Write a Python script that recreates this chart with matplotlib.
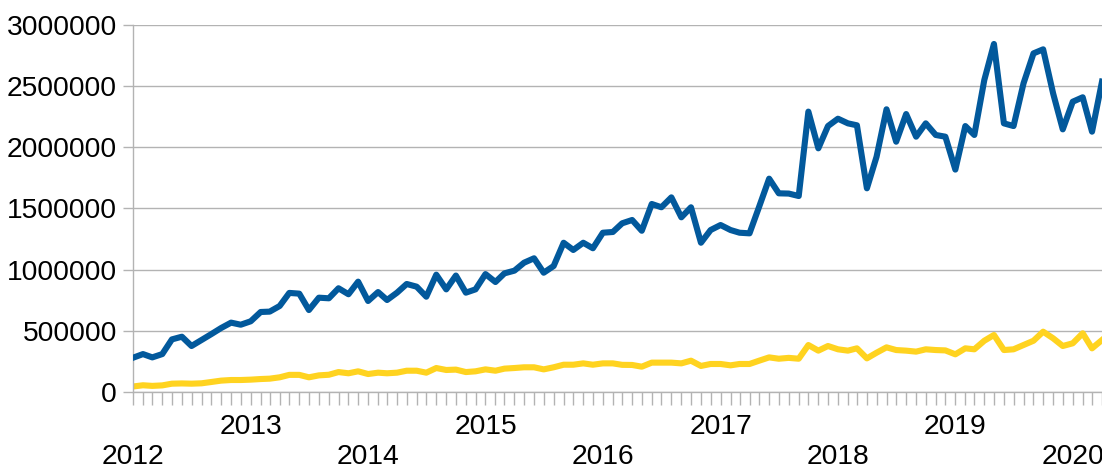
import pandas as pd
import matplotlib
matplotlib.use("Agg")
import matplotlib.pyplot as plt
import matplotlib.dates as mdates
from matplotlib.ticker import FuncFormatter, MultipleLocator

plt.rcParams['font.family'] = ['Liberation Sans', 'DejaVu Sans']

# monthly values, Jan 2012 .. Apr 2020
dates = pd.date_range('2012-01-01', periods=100, freq='MS')

blue_vals = [
    280000, 310000, 283000, 310000, 430000, 452000, 376000, 425000, 474000, 523000, 567000, 550000,
    578000, 654000, 657000, 703000, 810000, 804000, 670000, 771000, 766000, 848000, 799000, 902000,
    744000, 817000, 752000, 812000, 883000, 861000, 779000, 959000, 839000, 952000, 812000, 839000,
    964000, 899000, 970000, 992000, 1057000, 1093000, 975000, 1030000, 1220000, 1161000, 1220000, 1175000,
    1302000, 1308000, 1379000, 1406000, 1318000, 1537000, 1510000, 1591000, 1428000, 1510000, 1220000, 1324000,
    1365000, 1324000, 1302000, 1297000, 1515000, 1744000, 1624000, 1622000, 1602000, 2292000, 1992000, 2174000,
    2234000, 2196000, 2180000, 1665000, 1923000, 2311000, 2046000, 2272000, 2087000, 2196000, 2101000, 2087000,
    1818000, 2174000, 2101000, 2550000, 2845000, 2196000, 2174000, 2523000, 2768000, 2801000, 2441000, 2147000,
    2373000, 2409000, 2128000, 2537000,
]

yellow_vals = [
    45000, 55000, 50000, 54000, 68000, 70000, 68000, 71000, 82000, 93000, 98000, 98000,
    101000, 106000, 109000, 120000, 140000, 140000, 120000, 136000, 141000, 163000, 153000, 169000,
    147000, 158000, 153000, 158000, 174000, 174000, 158000, 196000, 180000, 183000, 163000, 169000,
    185000, 174000, 191000, 196000, 202000, 202000, 185000, 202000, 223000, 223000, 234000, 223000,
    234000, 234000, 222000, 221000, 207000, 240000, 240000, 240000, 234000, 256000, 213000, 229000,
    229000, 218000, 229000, 229000, 256000, 283000, 272000, 279000, 272000, 384000, 338000, 376000,
    349000, 338000, 357000, 275000, 321000, 365000, 343000, 338000, 330000, 349000, 343000, 340000,
    308000, 357000, 349000, 419000, 466000, 343000, 349000, 384000, 419000, 493000, 439000, 376000,
    398000, 480000, 357000, 425000,
]

fig = plt.figure(figsize=(11.02, 4.67), dpi=100)
ax = fig.add_axes([133 / 1102, 1 - 392 / 467, 1 - 133 / 1102, 367 / 467])

ax.plot(dates, blue_vals, color='#02599c', lw=4.4, solid_joinstyle='round', zorder=3)
ax.plot(dates, yellow_vals, color='#ffd320', lw=4.4, solid_joinstyle='round', zorder=2)

ax.set_xlim(dates[0], dates[-1])
ax.set_ylim(0, 3000000)

grid_c = '#b3b3b3'
ax.yaxis.set_major_locator(MultipleLocator(500000))
ax.yaxis.set_major_formatter(FuncFormatter(lambda v, p: f"{int(v)}"))
ax.grid(axis='y', color=grid_c, lw=1.0, zorder=0)

ax.xaxis.set_major_locator(mdates.YearLocator())
ax.xaxis.set_minor_locator(mdates.MonthLocator())


def year_label(x, pos):
    yr = mdates.num2date(x).year
    return str(yr) if yr % 2 else '\n' + str(yr)


ax.xaxis.set_major_formatter(FuncFormatter(year_label))

for s in ['top', 'right']:
    ax.spines[s].set_visible(False)
for s in ['left', 'bottom']:
    ax.spines[s].set_color(grid_c)
    ax.spines[s].set_linewidth(1.0)

ax.tick_params(axis='y', length=7.5, width=1.0, color=grid_c, labelsize=20.3, pad=4)
ax.tick_params(axis='x', which='both', length=9, width=1.0, color=grid_c)
ax.tick_params(axis='x', which='major', labelsize=20.3, pad=6.5)

fig.savefig('out.png', dpi=100)
